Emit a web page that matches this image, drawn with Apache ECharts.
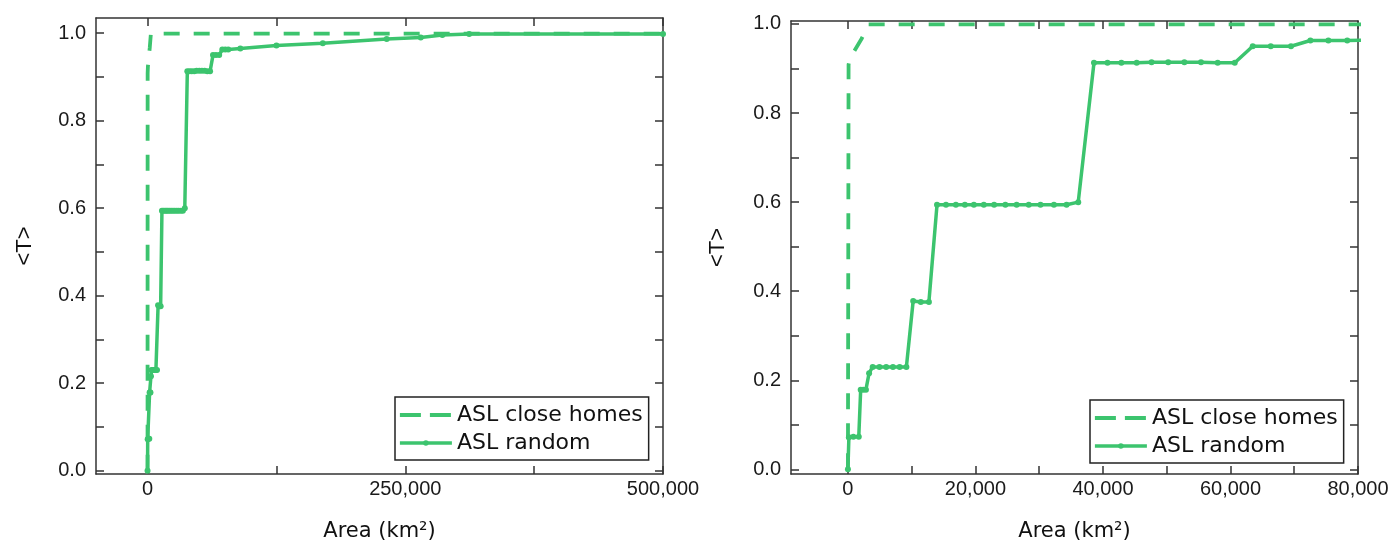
<!DOCTYPE html>
<html>
<head>
<meta charset="utf-8">
<script src="https://cdn.jsdelivr.net/npm/echarts@6/dist/echarts.min.js"></script>
<style>
  html, body { margin: 0; padding: 0; background: #fff; }
  #chart { width: 1396px; height: 547px; }
</style>
</head>
<body>
<div id="chart"></div>
<script>
// ASL random
var areaRandom = [0, 150, 850, 1700, 2000, 2400, 2820, 3320, 3880, 4940, 6000, 7060, 8110, 9170,
  10230, 11430, 12700, 13970, 15380, 16930, 18340, 19750, 21310, 22930, 24690, 26460, 28360,
  30200, 32310, 34290, 36120, 38590, 40710, 42890, 45290, 47620, 50230, 52770, 55380, 57990,
  60670, 63490, 66320, 69490, 72530, 75350, 78310, 90000, 125000, 170000, 232000, 265000,
  286000, 312000, 500000];
var tRandom = [0, 0.072, 0.073, 0.073, 0.179, 0.179, 0.179, 0.216, 0.230, 0.230, 0.230, 0.230, 0.230, 0.230,
  0.378, 0.376, 0.376, 0.594, 0.594, 0.594, 0.594, 0.594, 0.594, 0.594, 0.594, 0.594, 0.594,
  0.594, 0.594, 0.594, 0.600, 0.913, 0.913, 0.913, 0.913, 0.914, 0.914, 0.914, 0.914, 0.913,
  0.913, 0.950, 0.950, 0.950, 0.963, 0.963, 0.963, 0.965, 0.972, 0.977, 0.987, 0.990,
  0.996, 0.998, 0.998];
// ASL close homes
var areaClose = [0, 100, 360, 2190, 3230, 500000];
var tClose = [0, 0.909, 0.924, 0.968, 0.999, 0.999];

var yTicks = [0, 0.1, 0.2, 0.3, 0.4, 0.5, 0.6, 0.7, 0.8, 0.9, 1.0];
var yLabels = [0, 0.2, 0.4, 0.6, 0.8, 1.0];
var xTicksLeft = [0, 125000, 250000, 375000, 500000];
var xLabelsLeft = [0, 250000, 500000];
var xTicksRight = [0, 10000, 20000, 30000, 40000, 50000, 60000, 70000, 80000];
var xLabelsRight = [0, 20000, 40000, 60000, 80000];

var green = '#3cc46e';
var axisColor = '#333';

function zip(a, b) {
  var out = [];
  for (var i = 0; i < a.length; i++) out.push([a[i], b[i]]);
  return out;
}

function xAx(grid, min, max, ticks, labels, pos) {
  return {
    type: 'value', gridIndex: grid, min: min, max: max, position: pos,
    name: pos == 'bottom' ? 'Area (km²)' : '',
    nameLocation: 'middle', nameGap: 47,
    nameTextStyle: { fontFamily: 'DejaVu Sans', fontSize: 21, color: '#111' },
    axisLine: { show: true, onZero: false, lineStyle: { color: axisColor, width: 1.5 } },
    axisTick: { show: true, inside: true, length: 8, customValues: ticks, lineStyle: { color: axisColor, width: 1.5 } },
    axisLabel: {
      show: pos == 'bottom', customValues: labels, margin: 5,
      fontFamily: 'Liberation Sans', fontSize: 20, color: '#1a1a1a',
      formatter: function (v) { return v.toLocaleString('en-US'); }
    },
    splitLine: { show: false }
  };
}

function yAx(grid, min, max, pos, gap) {
  return {
    type: 'value', gridIndex: grid, min: min, max: max, position: pos,
    name: pos == 'left' ? '<T>' : '',
    nameLocation: 'middle', nameGap: gap,
    nameTextStyle: { fontFamily: 'Liberation Sans', fontSize: 22, color: '#111' },
    axisLine: { show: true, onZero: false, lineStyle: { color: axisColor, width: 1.5 } },
    axisTick: { show: true, inside: true, length: 8, customValues: yTicks, lineStyle: { color: axisColor, width: 1.5 } },
    axisLabel: {
      show: pos == 'left', customValues: yLabels, margin: 10,
      fontFamily: 'Liberation Sans', fontSize: 20, color: '#1a1a1a',
      formatter: function (v) { return v.toFixed(1); }
    },
    splitLine: { show: false }
  };
}

function legendAt(left, top) {
  return {
    left: left, top: top, orient: 'vertical',
    data: [
      { name: 'ASL close homes', itemStyle: { opacity: 0 }, lineStyle: { width: 3.8, type: [21, 9] } },
      { name: 'ASL random', lineStyle: { width: 3.5 } }
    ],
    itemWidth: 52, itemHeight: 7, itemGap: 6,
    padding: [7, 6, 6, 3],
    borderColor: '#222', borderWidth: 1.5,
    lineStyle: { width: 3.5 },
    textStyle: { fontFamily: 'DejaVu Sans', fontSize: 22, color: '#111' },
    selectedMode: false
  };
}

function seriesFor(idx) {
  return [{
    name: 'ASL close homes', type: 'line', xAxisIndex: idx * 2, yAxisIndex: idx * 2,
    data: zip(areaClose, tClose), symbol: 'none', clip: true,
    lineStyle: { color: green, width: 3.8, type: [16, 14] },
    itemStyle: { color: green }
  }, {
    name: 'ASL random', type: 'line', xAxisIndex: idx * 2, yAxisIndex: idx * 2,
    data: zip(areaRandom, tRandom), symbol: 'circle', symbolSize: 6, clip: true,
    lineStyle: { color: green, width: 3.5 },
    itemStyle: { color: green }
  }];
}

var myChart = echarts.init(document.getElementById('chart'));
var option = {
  animation: false,
  backgroundColor: '#fff',
  grid: [
    { left: 96, top: 18, width: 567, height: 458 },
    { left: 791, top: 21, width: 567, height: 458 }
  ],
  xAxis: [
    xAx(0, -50000, 500000, xTicksLeft, xLabelsLeft, 'bottom'),
    xAx(0, -50000, 500000, xTicksLeft, xLabelsLeft, 'top'),
    xAx(1, -8930, 80000, xTicksRight, xLabelsRight, 'bottom'),
    xAx(1, -8930, 80000, xTicksRight, xLabelsRight, 'top')
  ],
  yAxis: [
    yAx(0, -0.0075, 1.0348, 'left', 60),
    yAx(0, -0.0075, 1.0348, 'right', 0),
    yAx(1, -0.0104, 1.0067, 'left', 62),
    yAx(1, -0.0104, 1.0067, 'right', 0)
  ],
  legend: [legendAt(395, 397), legendAt(1090, 400)],
  series: seriesFor(0).concat(seriesFor(1))
};
myChart.setOption(option);
</script>
</body>
</html>
